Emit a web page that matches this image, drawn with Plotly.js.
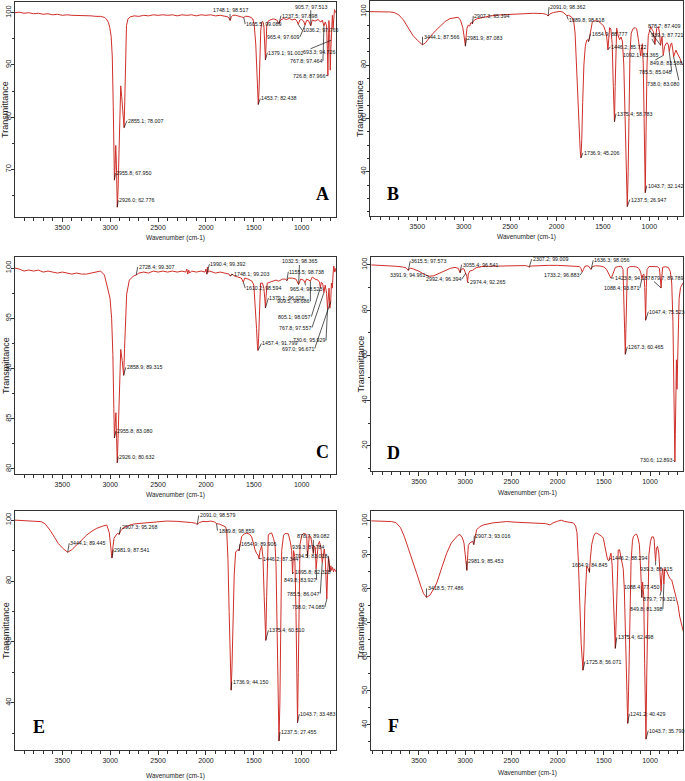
<!DOCTYPE html>
<html><head><meta charset="utf-8">
<script src="https://cdn.plot.ly/plotly-3.0.1.min.js"></script>
<style>html,body{margin:0;padding:0;background:#fff}#chart{width:685px;height:781px}</style>
</head><body><div id="chart"></div>
<script>
// ---------------- DATA (wavenumber cm-1, transmittance %) ----------------
const A_spec = [[3994,100],[3950,100.1],[3900,99.9],[3850,100],[3800,99.8],[3750,99.9],[3700,99.7],[3650,99.8],[3600,99.6],[3550,99.7],[3500,99.5],[3450,99.6],[3400,99.5],[3350,99.5],[3300,99.4],[3250,99.5],[3200,99.4],[3150,99.3],[3100,99.3],[3060,99.1],[3040,98.8],[3020,98.2],[3005,97.2],[2990,95.5],[2978,91.5],[2968,82],[2960,71],[2955.8,67.95],[2950,70],[2942,74.6],[2935,71],[2926,62.78],[2918,66],[2908,74],[2898,82],[2890,86],[2880,84],[2868,80.5],[2855.1,78.01],[2848,83],[2840,92],[2830,97.5],[2815,98.8],[2790,99.2],[2750,99.4],[2700,99.3],[2650,99.5],[2600,99.4],[2550,99.6],[2500,99.5],[2450,99.6],[2400,99.5],[2350,99.6],[2300,99.4],[2250,99.6],[2200,99.5],[2150,99.6],[2100,99.4],[2050,99.6],[2000,99.5],[1950,99.6],[1900,99.4],[1850,99.5],[1800,99.3],[1770,99.2],[1760,99],[1748.1,98.52],[1735,99.2],[1720,99.5],[1690,99.5],[1660,99.3],[1630,99.2],[1605.5,99.09],[1590,99.3],[1560,99.3],[1530,99.1],[1510,98.8],[1495,97.5],[1480,94],[1468,88],[1460,84],[1453.7,82.44],[1446,85],[1438,91],[1428,96.5],[1418,98.2],[1405,98.3],[1395,97.5],[1386,94],[1379.1,91],[1372,94],[1365,97.5],[1350,98.4],[1320,98.7],[1290,98.8],[1260,98.6],[1237.5,97.9],[1220,98.6],[1190,98.9],[1160,98.7],[1130,98.9],[1100,98.6],[1070,98.8],[1050,98.4],[1036.2,97.77],[1020,98.6],[1000,98.7],[980,98.4],[965.4,97.61],[950,98.5],[930,98.5],[905.7,97.51],[890,98.6],[860,98.4],[830,98.7],[800,98.2],[785,98.6],[767.8,97.46],[755,98.2],[740,97.5],[732,93],[726.8,87.97],[722,93],[716,98.5],[708,96],[702,89],[696,93],[693.3,94.73],[688,98.5],[680,99.5],[672,97],[665,100],[658,100.6],[645,100]];
const B_spec = [[4010,100],[3900,100],[3800,99.9],[3750,99.7],[3700,98.8],[3650,96.9],[3600,94.2],[3550,91.2],[3500,89.3],[3470,88.2],[3444.1,87.57],[3410,88.4],[3363,90.6],[3300,93],[3255,94.5],[3200,96.3],[3150,97.4],[3100,97.8],[3060,97.9],[3035,96.8],[3010,94],[2995,90.5],[2981.9,87.08],[2975,90.5],[2965,93.8],[2950,95],[2935,94.6],[2925,95.8],[2915,95.9],[2907.3,95.39],[2895,96.6],[2860,97.3],[2800,97.8],[2717,98.4],[2600,98.8],[2537,98.9],[2450,99.2],[2361,99.3],[2250,99.4],[2150,99.3],[2110,99],[2091,98.36],[2070,99.2],[2034,99.7],[1990,100],[1962,100.1],[1930,99.8],[1905,99.2],[1889.8,98.52],[1870,98.6],[1840,98.1],[1815,96.5],[1800,92],[1785,80],[1770,66],[1755,54],[1745,48],[1736.9,45.21],[1728,52],[1718,66],[1705,80],[1690,87],[1675,89.3],[1665,89.5],[1654.9,88.78],[1645,90.2],[1630,93.5],[1615,96],[1603,96.5],[1580,96.6],[1549,96.4],[1520,95.5],[1495,94.8],[1475,93],[1459,90.5],[1446.2,85.72],[1438,90],[1428,94],[1415,93.5],[1400,88],[1388,72],[1375.4,58.78],[1368,72],[1360,88],[1352,93.8],[1335,91],[1320,89.5],[1305,90.5],[1290,89],[1275,80],[1262,60],[1250,38],[1237.5,26.95],[1228,40],[1218,65],[1208,85],[1195,92],[1172,93.8],[1150,94],[1136,93.5],[1120,90],[1108,86],[1092.1,83.37],[1085,86],[1075,88],[1065,80],[1055,55],[1043.7,32.14],[1035,55],[1025,80],[1011,91],[985,94.4],[965,93],[957,92.5],[939.3,87.72],[930,91.5],[920,93.8],[903,94.4],[890,92],[878.7,87.41],[870,89],[863,90.6],[849.8,83.59],[835,87],[820,88.1],[805,88.3],[795,87.5],[785.5,85.05],[772,87.5],[759,88.3],[748,86],[738,83.08],[725,84.5],[712,85.6],[700,84.5],[687,83.8],[670,82.5],[651,80.6],[637,80]];
const C_spec = [[3994,100],[3950,99.9],[3900,99.7],[3850,99.8],[3800,99.7],[3750,99.8],[3700,99.6],[3650,99.7],[3600,99.6],[3550,99.5],[3500,99.6],[3450,99.5],[3400,99.4],[3350,99.5],[3300,99.4],[3250,99.4],[3200,99.5],[3150,99.6],[3100,99.7],[3060,99.3],[3036,98.3],[3015,97.6],[3002,97],[2985,95],[2972,91.4],[2962,86],[2955.8,83.08],[2948,84.5],[2940,85.6],[2933,83],[2926,80.63],[2918,83],[2905,88],[2890,91.9],[2875,90.8],[2865,89.8],[2858.9,89.32],[2850,92],[2840,95.5],[2828,97.4],[2800,98.8],[2758,99.2],[2728.4,99.31],[2700,99.5],[2650,99.6],[2600,99.5],[2550,99.7],[2500,99.6],[2450,99.7],[2400,99.6],[2350,99.7],[2300,99.6],[2250,99.7],[2210,99.6],[2200,99.9],[2190,99.4],[2180,99.8],[2170,99.5],[2150,99.7],[2100,99.6],[2050,99.7],[2010,99.6],[2000,99.9],[1995,99.4],[1990.4,99.39],[1985,100.1],[1975,99.6],[1960,99.7],[1900,99.5],[1850,99.6],[1800,99.5],[1760,99.4],[1748.1,99.2],[1730,99.4],[1700,99.2],[1660,99.1],[1630,99],[1610.2,98.59],[1595,99],[1560,98.9],[1520,98.7],[1500,98.3],[1485,96.5],[1472,94],[1463,92.3],[1457.4,91.8],[1450,93],[1442,96.5],[1430,98.5],[1410,98.5],[1395,98],[1386,97],[1379.1,96.03],[1372,97.2],[1360,98.5],[1330,98.6],[1300,98.7],[1270,98.8],[1240,98.7],[1200,98.9],[1170,98.9],[1155.5,98.74],[1140,99],[1100,99],[1060,98.9],[1032.5,98.37],[1010,98.9],[980,98.8],[965.4,98.52],[950,98.9],[925,98.8],[909.5,98.69],[890,99.1],[860,98.9],[830,98.8],[815,98.6],[805.1,98.06],[795,98.6],[780,98.4],[767.8,97.56],[755,98.3],[740,97.5],[730.6,95.93],[722,96.8],[715,98],[706,96],[697,96.67],[690,98.5],[680,98],[672,99.5],[665,100.2],[655,99.6],[642,100]];
const D_spec = [[4015,100],[3950,99.9],[3850,99.7],[3750,99.4],[3680,99.1],[3640,98.7],[3615.5,97.57],[3595,98.6],[3560,98.2],[3500,97.2],[3450,96],[3391.9,94.96],[3340,95.2],[3280,96.2],[3220,97.5],[3160,98.5],[3110,98.9],[3075,98.5],[3055.4,96.54],[3040,98.2],[3015,98.3],[2992.4,96.39],[2982,95],[2974.4,92.27],[2966,96],[2950,97.3],[2920,97.6],[2880,98.8],[2820,99.3],[2750,99.4],[2650,99.5],[2550,99.6],[2450,99.6],[2350,99.7],[2320,99.4],[2307.2,99.01],[2290,99.5],[2200,99.7],[2100,99.8],[2000,99.8],[1900,99.7],[1800,99.5],[1765,99.3],[1748,98.5],[1733.2,96.88],[1720,98],[1705,99.4],[1680,99.6],[1660,99.3],[1648,98.4],[1636.3,98.06],[1622,99.3],[1590,99.6],[1540,99.5],[1500,99.1],[1470,98],[1450,96],[1435,94.8],[1423.8,94.19],[1410,95],[1395,97],[1375,98.9],[1340,99.3],[1310,99.4],[1292,98],[1283,88],[1275,72],[1267.3,60.47],[1261,72],[1254,90],[1245,98.5],[1220,99.2],[1180,99.3],[1140,99],[1115,98.2],[1100,96.5],[1088.4,93.87],[1078,95.5],[1066,96],[1057,90],[1047.4,75.52],[1040,90],[1032,98],[1010,99.3],[960,99.4],[920,99.2],[898,98.5],[888,95],[879.7,89.79],[872,95],[862,99],[830,99.2],[800,98.8],[780,97],[765,92],[752,75],[742,45],[735,20],[730.6,12.89],[726,25],[720,50],[714,58],[708,45],[702,55],[695,75],[685,85],[670,90],[655,91.5],[643,92]];
const E_spec = [[3994,100],[3900,99.8],[3800,99.7],[3720,99.5],[3680,98.8],[3628,96.7],[3580,94.3],[3541,92.3],[3490,90.6],[3444.1,89.45],[3400,90.3],[3350,91.8],[3300,93.5],[3245,95.1],[3190,96.4],[3141,97.3],[3080,98],[3036,98.4],[3010,96],[2995,92],[2981.9,87.54],[2972,91],[2960,94],[2945,94.8],[2925,95.6],[2915,95.6],[2907.3,95.27],[2890,96.5],[2860,97.5],[2800,98.3],[2758,98.7],[2700,98.9],[2584,99.2],[2500,99.5],[2410,99.7],[2300,99.6],[2236,99.5],[2150,99.2],[2110,99],[2091,98.58],[2070,99.2],[2030,99.6],[1990,99.5],[1950,99.7],[1910,99.4],[1889.8,98.86],[1860,98.7],[1820,98.3],[1795,97.8],[1783,96.5],[1770,87],[1758,70],[1748,55],[1736.9,44.15],[1728,52],[1718,68],[1705,82],[1690,89.5],[1675,90.2],[1665,90.4],[1654.9,89.91],[1640,92],[1627,94.6],[1600,95.5],[1575,95.7],[1545,95.4],[1523,94.5],[1505,92.5],[1488,90.3],[1470,89],[1455,88.5],[1446.2,87.34],[1435,90],[1418,91.5],[1405,88],[1392,75],[1375.4,60.51],[1366,75],[1358,90],[1349,95.2],[1330,95.6],[1314,95.8],[1295,94],[1279,92],[1268,85],[1255,60],[1245,38],[1237.5,27.46],[1228,40],[1220,70],[1209,90],[1190,95],[1175,95.6],[1140,95.5],[1120,93],[1105,90],[1095.8,82.33],[1085,90],[1072,88],[1060,70],[1050,45],[1043.7,33.48],[1036,50],[1028,80],[1018,92],[1000,95],[983,95.6],[960,95.5],[948,95],[939.3,87.78],[932,92],[920,95],[905,94.5],[890,92],[878.7,89.08],[868,91.5],[858,91],[849.8,83.93],[840,89],[828,92],[815,93],[800,91],[785.5,86.05],[775,89],[765,90.5],[755,88],[745,82],[738,74.09],[730,82],[720,88],[712,86],[704.5,83.02],[696,85],[688,83.5],[678,84.5],[668,83],[660,84],[650,83.5],[642,83]];
const F_spec = [[4015,100],[3900,99.9],[3800,99.8],[3750,99.5],[3700,98],[3660,95.5],[3633,93.4],[3580,88.8],[3525,84.6],[3480,80.8],[3450,78.6],[3418.5,77.49],[3380,78.2],[3340,80],[3308,81.7],[3250,86.5],[3200,90.5],[3150,93.5],[3110,94.9],[3080,95.7],[3056,96],[3030,95],[3013,93.5],[2995,89],[2981.9,85.45],[2972,90],[2966,92.8],[2950,93.5],[2930,93.8],[2920,94],[2907.3,93.02],[2895,95],[2876,97.4],[2840,98.3],[2804,98.8],[2700,99.4],[2600,99.7],[2551,99.8],[2450,99.6],[2350,99.5],[2250,99.5],[2190,99.4],[2130,99.2],[2082,98.8],[2050,99.4],[2000,99.9],[1960,100.2],[1920,99.8],[1880,99.6],[1830,99.4],[1805,98.5],[1790,96.5],[1775,88],[1760,76],[1745,64],[1725.8,56.07],[1715,62],[1705,75],[1695,84],[1685,86.6],[1670,86],[1654.9,84.85],[1645,89],[1631,93],[1610,95.5],[1590,96.4],[1577,96.4],[1550,96],[1525,95.5],[1505,94.9],[1485,92],[1469,89.2],[1460,88.6],[1446.2,88.29],[1435,89.5],[1422,90.5],[1410,87],[1398,78],[1385,67],[1375.4,62.5],[1365,72],[1355,86],[1344,91.4],[1330,91.5],[1318,90],[1305,87.5],[1290,86],[1278,80],[1265,65],[1252,48],[1241.2,40.43],[1232,50],[1220,72],[1205,88],[1190,94],[1181,95.3],[1160,96],[1145,96.1],[1130,95],[1115,93],[1100,85],[1088.4,77.45],[1080,82],[1068,78],[1058,58],[1043.7,35.79],[1035,55],[1025,78],[1012,90],[995,94],[980,95.3],[964,95.3],[955,94.5],[945,90],[939.3,88.22],[930,92],[918,92.5],[905,90.5],[895,87],[887,84],[879.7,79.32],[872,84],[862,86],[849.8,81.4],[840,86],[825,85.5],[812,84.5],[800,84],[785,83],[765,82.6],[745,80.5],[725,79],[711,77.5],[695,75],[680,72],[665,70],[650,68],[640,67.5]];

// peak labels: [wavenumber, transmittance]
const A_peaks = [[2855.1,78.007],[2955.8,67.950],[2926.0,62.776],[1748.1,98.517],[1605.5,99.089],[1453.7,82.438],[1379.1,91.002],[693.3,94.726],[965.4,97.609],[1237.5,97.898],[905.7,97.513],[1036.2,97.765],[767.8,97.464],[726.8,87.966]];
const B_peaks = [[3444.1,87.566],[2981.9,87.083],[2907.3,95.394],[2091.0,98.362],[1889.8,98.518],[1654.9,88.777],[1446.2,85.722],[1375.4,58.783],[1092.1,83.365],[939.3,87.721],[878.7,87.409],[849.8,83.588],[785.5,85.048],[738.0,83.080],[1736.9,45.206],[1237.5,26.947],[1043.7,32.142]];
const C_peaks = [[2858.9,89.315],[2955.8,83.080],[2926.0,80.632],[2728.4,99.307],[1990.4,99.392],[1748.1,99.203],[1610.2,98.594],[1457.4,91.799],[1379.1,96.026],[1032.5,98.365],[1155.5,98.738],[965.4,98.523],[909.5,98.686],[805.1,98.057],[767.8,97.557],[730.6,95.929],[697.0,96.671]];
const D_peaks = [[3615.5,97.573],[3391.9,94.961],[3055.4,96.541],[2992.4,96.394],[2974.4,92.265],[2307.2,99.009],[1733.2,96.883],[1636.3,98.056],[1423.8,94.187],[1088.4,93.871],[879.7,89.789],[1267.3,60.465],[1047.4,75.523],[730.6,12.893]];
const E_peaks = [[3444.1,89.445],[2981.9,87.541],[2907.3,95.268],[2091.0,98.579],[1889.8,98.859],[1654.9,89.906],[1446.2,87.344],[1375.4,60.510],[1095.8,82.328],[849.8,83.927],[785.5,86.047],[738.0,74.085],[939.3,87.784],[878.7,89.082],[704.5,83.018],[1736.9,44.150],[1237.5,27.455],[1043.7,33.483]];
const F_peaks = [[3418.5,77.486],[2981.9,85.453],[2907.3,93.016],[1654.9,84.845],[1446.2,88.294],[1375.4,62.498],[1725.8,56.071],[1241.2,40.429],[1043.7,35.790],[1088.4,77.450],[939.3,88.215],[879.7,79.321],[849.8,81.398]];
const X_TICKS = [1000,1500,2000,2500,3000,3500];

// ---------------- LAYOUT HELPERS (label offsets: ax, ay in px, anchor) ----------------
const A_off = [[3,-7,'left'],[1,-7,'left'],[1,-7,'left'],[0,-10,'center'],[1.5,6.5,'left'],[2,-6,'left'],[2,-7,'left'],[-29,12,'left'],[-5,11.5,'right'],[2,-8,'left'],[0,-19,'center'],[4,6,'left'],[-1,35,'right'],[-2,0,'right']];
const B_off = [[0,-8,'left'],[1,-8,'left'],[1,-8,'left'],[1,-9,'left'],[1.5,4,'left'],[2,-8,'left'],[2.5,-3,'left'],[1.5,-8,'left'],[0,-1,'center'],[-5,-9,'left'],[-14,-19,'left'],[-14,8,'left'],[2.5,20,'right'],[6,27,'right'],[2,-5,'left'],[2.5,-7,'left'],[1.5,-7,'left']];
const C_off = [[2,-8,'left'],[1.5,-7,'left'],[1,-6,'left'],[1.5,-8,'left'],[2.5,-10,'left'],[3,-2,'left'],[2,6,'left'],[3.5,-7,'left'],[3,-10,'left'],[1,-23,'center'],[1.5,-9,'left'],[1,6,'center'],[0,20,'right'],[-9,29,'right'],[-12,35,'right'],[-1.5,31.5,'right'],[-16,47,'right']];
const D_off = [[2,-9.5,'left'],[-3,-1,'right'],[1.5,-8,'left'],[-4,6,'right'],[1.5,0,'left'],[2.5,-8,'left'],[-2,3,'right'],[2,-9,'left'],[3,0,'left'],[-2,9.5,'right'],[-11,-10,'left'],[2,-7.5,'left'],[2.7,-8.5,'left'],[-1.6,-1.5,'right']];
const E_off = [[1.6,-9,'left'],[1.5,-8.5,'left'],[1.7,-7.7,'left'],[1.5,-9,'left'],[1,7,'left'],[1,-7,'left'],[2.7,0,'left'],[2.6,-10,'left'],[1,-2,'left'],[0.6,11,'right'],[-2,31,'right'],[-2,8,'right'],[0,-10,'center'],[0,-17,'center'],[-2,-16,'right'],[0.6,-8.3,'left'],[1,-9,'left'],[1.8,-8.5,'left']];
const F_off = [[0,-9,'left'],[0,-9,'left'],[0.6,-9,'left'],[0,-7.5,'center'],[2,-2.5,'left'],[1.5,-11,'left'],[2,-8.7,'left'],[1.6,-9.5,'left'],[2.3,-8.6,'left'],[0,-11,'center'],[0,8,'center'],[-2,8,'center'],[-1,25,'right']];

const W = 685, H = 781;
const PANELS = [
  {spec:A_spec, peaks:A_peaks, off:A_off, box:[15,336,2,217], xr:[3994,642], yr:[60.9,102.05], dt:10, mdt:5, letter:'A', lp:[322,194], ytx:5.5, xty:238},
  {spec:B_spec, peaks:B_peaks, off:B_off, box:[370,683,1,216], xr:[4010,637], yr:[23.4,104], dt:20, mdt:5, letter:'B', lp:[393,194], ytx:360.5, xty:237},
  {spec:C_spec, peaks:C_peaks, off:C_off, box:[15,336,257,474], xr:[3994,642], yr:[79.5,101.1], dt:5, mdt:2.5, letter:'C', lp:[322,452], ytx:5.5, xty:495},
  {spec:D_spec, peaks:D_peaks, off:D_off, box:[371,683,257,471], xr:[4019,643], yr:[8.8,103.5], dt:20, mdt:10, letter:'D', lp:[393,453], ytx:360.5, xty:493},
  {spec:E_spec, peaks:E_peaks, off:E_off, box:[15,336,511,750], xr:[3994,642], yr:[24.5,103], dt:20, mdt:10, letter:'E', lp:[39,727], ytx:5.5, xty:776},
  {spec:F_spec, peaks:F_peaks, off:F_off, box:[371,683,511,750], xr:[4019,643], yr:[32.6,102.9], dt:10, mdt:5, letter:'F', lp:[393,726], ytx:360.5, xty:773}
];

const SANS = 'Liberation Sans, Arial, sans-serif';
const LINE = '#333';
const traces = [];
const layout = {width:W, height:H, margin:{l:0,r:0,t:0,b:0}, showlegend:false,
  paper_bgcolor:'#fff', plot_bgcolor:'#fff', annotations:[]};

PANELS.forEach((p, i) => {
  const n = i + 1, xs = n === 1 ? '' : String(n);
  const [l, r, t, b] = p.box;
  traces.push({type:'scatter', mode:'lines', x:p.spec.map(d=>d[0]), y:p.spec.map(d=>d[1]),
    xaxis:'x'+xs, yaxis:'y'+xs, line:{color:'#cf2f2a', width:1}, hoverinfo:'skip'});
  layout['xaxis'+xs] = {domain:[l/W, r/W], anchor:'y'+xs, range:p.xr, showgrid:false, zeroline:false,
    showline:true, mirror:true, linecolor:LINE, linewidth:1, ticks:'outside', ticklen:4, tickcolor:LINE,
    tickmode:'array', tickvals:X_TICKS, tickfont:{family:SANS, size:7, color:'#222'},
    minor:{tickmode:'linear', tick0:0, dtick:100, ticks:'outside', ticklen:3, tickcolor:LINE}};
  layout['yaxis'+xs] = {domain:[1-b/H, 1-t/H], anchor:'x'+xs, range:p.yr, showgrid:false, zeroline:false,
    showline:true, mirror:true, linecolor:LINE, linewidth:1, ticks:'outside', ticklen:3, tickcolor:LINE,
    tick0:0, dtick:p.dt, tickangle:-90, ticklabelstandoff:-3, tickfont:{family:SANS, size:7.5, color:'#222'},
    minor:{dtick:p.mdt, ticks:'outside', ticklen:2, tickcolor:LINE}};
  p.peaks.forEach((pk, k) => {
    const o = p.off[k];
    layout.annotations.push({xref:'x'+xs, yref:'y'+xs, x:pk[0], y:pk[1],
      text: pk[0].toFixed(1) + '; ' + pk[1].toFixed(3),
      showarrow:true, arrowhead:0, arrowwidth:0.7, arrowcolor:'#111', ax:o[0], ay:o[1],
      xanchor:o[2], yanchor:'middle', borderpad:0,
      font:{family:SANS, size:5.3, color:'#111'}});
  });
  layout.annotations.push({xref:'paper', yref:'paper', x:p.lp[0]/W, y:1-p.lp[1]/H, text:'<b>'+p.letter+'</b>',
    showarrow:false, xanchor:'center', yanchor:'middle',
    font:{family:'Liberation Serif, Times New Roman, serif', size:18, color:'#000'}});
  layout.annotations.push({xref:'paper', yref:'paper', x:p.ytx/W, y:1-((t+b)/2)/H, text:'Transmittance',
    textangle:-90, showarrow:false, xanchor:'center', yanchor:'middle',
    font:{family:SANS, size:9, color:'#222'}});
  layout.annotations.push({xref:'paper', yref:'paper', x:((l+r)/2)/W, y:1-p.xty/H, text:'Wavenumber (cm-1)',
    showarrow:false, xanchor:'center', yanchor:'middle',
    font:{family:SANS, size:6.5, color:'#222'}});
});

Plotly.newPlot('chart', traces, layout, {staticPlot:true, displayModeBar:false});
</script></body></html>
